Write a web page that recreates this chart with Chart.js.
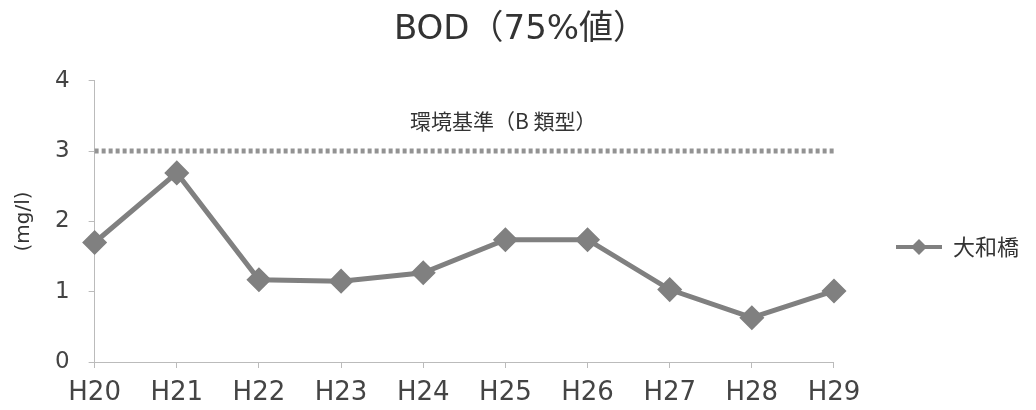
<!DOCTYPE html>
<html>
<head>
<meta charset="utf-8">
<script src="https://cdn.jsdelivr.net/npm/chart.js@4/dist/chart.umd.min.js"></script>
<style>
  html, body { margin: 0; padding: 0; background: #fff; }
  #wrap { width: 1036px; height: 410px; }
</style>
</head>
<body>
<div id="wrap"><canvas id="chart" width="1036" height="410"></canvas></div>
<script>
// data
const years = ['H20', 'H21', 'H22', 'H23', 'H24', 'H25', 'H26', 'H27', 'H28', 'H29'];
const yamatoBashi = [1.70, 2.69, 1.17, 1.15, 1.27, 1.74, 1.74, 1.03, 0.63, 1.01];
const standardB = [3, 3, 3, 3, 3, 3, 3, 3, 3, 3];
const yTicks = [0, 1, 2, 3, 4];

const FONT = "'DejaVu Sans', 'Noto Sans CJK JP', sans-serif";
const JP = "'Noto Sans CJK JP', 'DejaVu Sans', sans-serif";

// legend symbol: line with diamond (left part left blank to push it right)
function legendSymbol() {
  const c = document.createElement('canvas');
  c.width = 98; c.height = 20;
  const g = c.getContext('2d');
  g.strokeStyle = '#808080';
  g.lineWidth = 4;
  g.beginPath(); g.moveTo(52, 10); g.lineTo(98, 10); g.stroke();
  g.fillStyle = '#808080';
  g.beginPath();
  g.moveTo(75, 2); g.lineTo(83, 10); g.lineTo(75, 18); g.lineTo(67, 10);
  g.closePath(); g.fill();
  return c;
}

// text label above the standard line
const standardLabel = {
  id: 'standardLabel',
  afterDatasetsDraw(chart) {
    const { ctx, chartArea, scales } = chart;
    const y = scales.y.getPixelForValue(3);
    ctx.save();
    ctx.fillStyle = '#333';
    ctx.font = "21px " + JP;
    ctx.textAlign = 'center';
    ctx.textBaseline = 'middle';
    ctx.fillText('環境基準（B 類型）', (chartArea.left + chartArea.right) / 2 + 39, y - 30);
    ctx.restore();
  }
};

// move the legend a bit lower, like the original
const legendShift = {
  id: 'legendShift',
  afterLayout(chart) {
    chart.legend.top += 38;
    chart.legend.bottom += 38;
  }
};

new Chart(document.getElementById('chart'), {
  type: 'line',
  data: {
    labels: years,
    datasets: [
      {
        label: '大和橋',
        data: yamatoBashi,
        borderColor: '#808080',
        backgroundColor: '#808080',
        borderWidth: 5,
        pointStyle: 'rectRot',
        pointRadius: 9,
        pointHoverRadius: 9,
        tension: 0
      },
      {
        label: '環境基準',
        data: standardB,
        borderColor: '#939393',
        borderWidth: 5,
        borderDash: [4, 3],
        pointRadius: 0,
        tension: 0
      }
    ]
  },
  options: {
    responsive: false,
    animation: false,
    layout: { padding: { left: 12, right: 7, top: 0, bottom: -8 } },
    plugins: {
      title: {
        display: true,
        text: 'BOD（75%値）',
        color: '#333',
        font: { family: FONT, size: 34, weight: 'normal' },
        padding: { top: 10, bottom: 30 }
      },
      legend: {
        position: 'right',
        labels: {
          usePointStyle: true,
          pointStyle: legendSymbol(),
          pointStyleWidth: 98,
          color: '#333',
          font: { family: JP, size: 22 },
          padding: 10,
          filter: item => item.datasetIndex === 0
        }
      },
      tooltip: { enabled: false }
    },
    scales: {
      x: {
        offset: false,
        grid: { display: true, drawOnChartArea: false, tickLength: 6, color: '#bbb' },
        border: { color: '#bbb' },
        ticks: { color: '#444', font: { family: FONT, size: 26, lineHeight: 1 }, padding: 12, maxRotation: 0 }
      },
      y: {
        min: 0,
        max: 4,
        afterBuildTicks: axis => { axis.ticks = yTicks.map(v => ({ value: v })); },
        grid: { display: true, drawOnChartArea: false, tickLength: 6, color: '#bbb' },
        border: { color: '#bbb' },
        ticks: { color: '#444', font: { family: FONT, size: 23 }, padding: 19 },
        title: {
          display: true,
          text: '(mg/l)',
          color: '#333',
          font: { family: FONT, size: 20 },
          padding: { top: 0, bottom: 0 }
        }
      }
    }
  },
  plugins: [standardLabel, legendShift]
});
</script>
</body>
</html>
